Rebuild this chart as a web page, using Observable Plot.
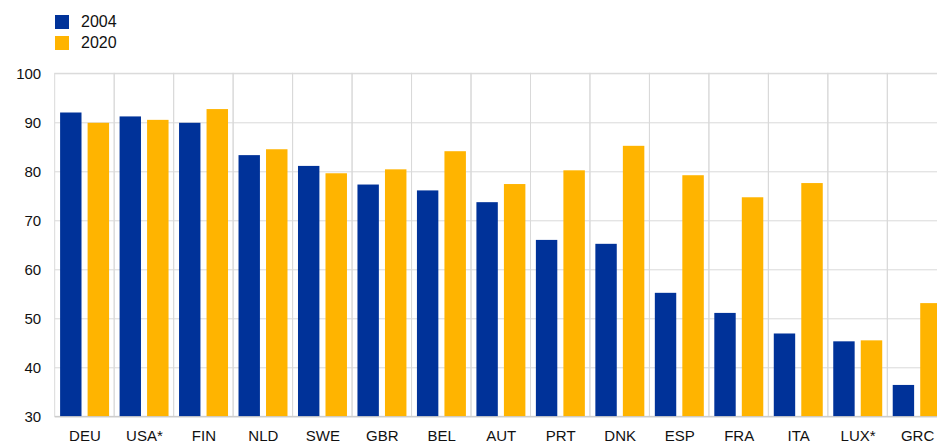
<!DOCTYPE html>
<html>
<head>
<meta charset="utf-8">
<script src="https://cdn.jsdelivr.net/npm/d3@7"></script>
<script src="https://cdn.jsdelivr.net/npm/@observablehq/plot@0.6"></script>
<style>
  html, body { margin: 0; padding: 0; background: #fff; overflow: hidden; }
  #wrap { position: relative; width: 937px; height: 444px; }
  #legend { position: absolute; left: 55px; top: 15px; font-family: "Liberation Sans", Arial, sans-serif; font-size: 16px; color: #111; }
  .row { display: flex; align-items: center; height: 14px; margin-bottom: 7px; }
  .sw { width: 14px; height: 14px; margin-right: 12px; }
</style>
</head>
<body>
<div id="wrap">
  <div id="legend"></div>
</div>
<script>
const countries = ["DEU","USA*","FIN","NLD","SWE","GBR","BEL","AUT","PRT","DNK","ESP","FRA","ITA","LUX*","GRC"];
const v2004 = [92.0,91.2,89.9,83.3,81.1,77.3,76.1,73.7,66.0,65.2,55.2,51.1,46.9,45.3,36.4];
const v2020 = [89.9,90.5,92.7,84.5,79.6,80.4,84.1,77.4,80.2,85.2,79.2,74.7,77.6,45.5,53.1];
const series = ["2004","2020"];
const colors = ["#003299","#FFB400"];
const yTicks = [30,40,50,60,70,80,90,100];

const d04 = countries.map((c,i)=>({country:c, value:v2004[i]}));
const d20 = countries.map((c,i)=>({country:c, value:v2020[i]}));

const xRange = [54.7, 946.8];
const bw = (xRange[1]-xRange[0]) / countries.length;

const chart = Plot.plot({
  width: 937,
  height: 444,
  marginTop: 73.3,
  marginBottom: 27.7,
  marginLeft: 54.7,
  marginRight: 0,
  style: {fontFamily: "Liberation Sans, Arial, sans-serif", fontSize: "15px", color: "#111", background: "#fff", overflow: "hidden"},
  x: {domain: countries, range: xRange, padding: 0, round: false, tickSize: 0, tickPadding: 13.5, label: null},
  y: {domain: [30, 100], ticks: yTicks, tickSize: 0, tickPadding: 14, label: null},
  marks: [
    Plot.ruleY(yTicks, {y: d => d, stroke: "#d9d9d9", strokeWidth: 1}),
    Plot.barY(countries, {x: d => d, y1: 30, y2: 100, fill: "none", stroke: "#d9d9d9", strokeWidth: 1}),
    Plot.barY(d04, {x: "country", y1: 30, y2: "value", fill: colors[0], insetLeft: 5.4, insetRight: bw - 26.8}),
    Plot.barY(d20, {x: "country", y1: 30, y2: "value", fill: colors[1], insetLeft: 32.9, insetRight: 5.1}),
    Plot.ruleY([30], {stroke: "#c8c8c8", strokeWidth: 1})
  ]
});
document.getElementById("wrap").appendChild(chart);

const lg = document.getElementById("legend");
series.forEach((s,i)=>{
  const r = document.createElement("div"); r.className = "row";
  const sw = document.createElement("div"); sw.className = "sw"; sw.style.background = colors[i];
  const t = document.createElement("span"); t.textContent = s;
  r.appendChild(sw); r.appendChild(t); lg.appendChild(r);
});
</script>
</body>
</html>
